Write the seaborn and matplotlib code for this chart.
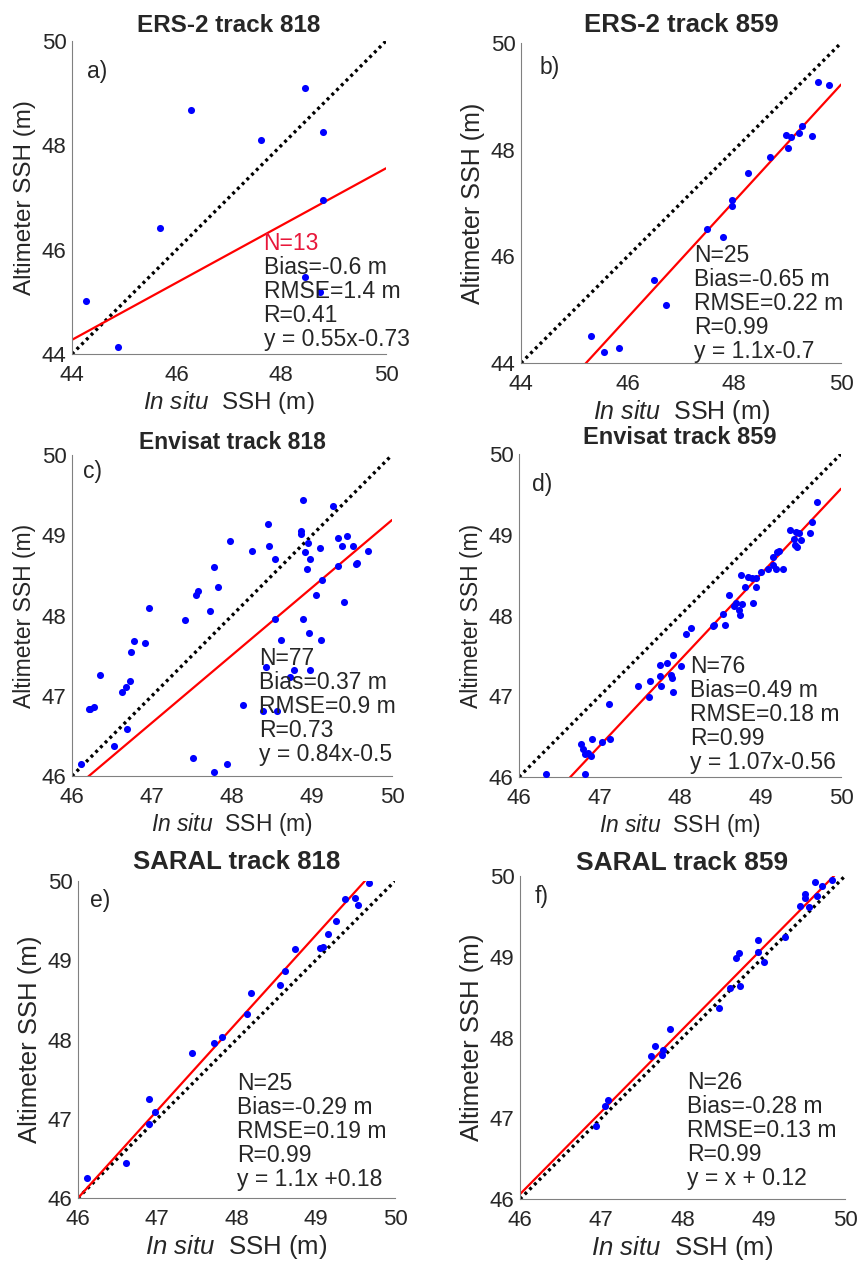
import numpy as np
import pandas as pd
import matplotlib
matplotlib.use("Agg")
import matplotlib.pyplot as plt
import seaborn as sns

# ----------------------------------------------------
# 1. Data
# ----------------------------------------------------
# ERS-2 track 818 (a)
ers818_insitu = [44.26, 44.87, 45.68, 46.27, 47.61, 48.46, 48.80, 48.79, 48.46, 48.74]
ers818_alt = [45.02, 44.13, 46.41, 48.67, 48.10, 49.09, 48.26, 46.95, 45.47, 45.18]

# ERS-2 track 859 (b)
ers859_insitu = [45.31, 45.55, 45.83, 46.49, 46.71, 47.49, 47.79, 47.95, 47.96, 48.26,
                 48.66, 48.96, 49.06, 49.01, 49.21, 49.26, 49.46, 49.56, 49.78]
ers859_alt = [44.50, 44.20, 44.28, 45.55, 45.08, 46.51, 46.36, 46.94, 47.06, 47.57,
              47.87, 48.27, 48.24, 48.03, 48.32, 48.44, 48.26, 49.26, 49.21]

# Envisat track 818 (c)
env818_insitu = [46.11, 46.21, 46.23, 46.28, 46.35, 46.52, 46.63, 46.68, 46.69, 46.73,
                 46.74, 46.77, 46.91, 46.96, 47.41, 47.51, 47.55, 47.58, 47.72, 47.78,
                 47.78, 47.83, 47.94, 47.97, 48.14, 48.25, 48.39, 48.43, 48.45, 48.46,
                 48.54, 48.54, 48.56, 48.61, 48.73, 48.78, 48.86, 48.86, 48.89, 48.89,
                 48.91, 48.94, 48.95, 48.96, 48.98, 48.97, 49.05, 49.10, 49.11, 49.12,
                 49.26, 49.32, 49.33, 49.38, 49.40, 49.44, 49.51, 49.55, 49.56, 49.70]
env818_alt = [46.15, 46.83, 46.83, 46.86, 47.26, 46.38, 47.05, 47.11, 46.59, 47.18,
              47.54, 47.68, 47.66, 48.09, 47.94, 46.23, 48.25, 48.31, 48.06, 48.60,
              46.05, 48.35, 46.15, 48.93, 46.89, 48.80, 46.81, 47.36, 49.14, 48.86,
              48.70, 47.96, 46.81, 47.69, 47.23, 47.32, 49.05, 49.02, 49.44, 47.96,
              48.79, 48.58, 48.90, 47.78, 48.71, 47.32, 48.25, 48.84, 47.69, 48.44,
              49.37, 48.97, 48.62, 48.87, 48.17, 48.99, 48.86, 48.64, 48.65, 48.80]

# Envisat track 859 (d)
env859_insitu = [46.34, 46.77, 46.79, 46.82, 46.82, 46.86, 46.90, 46.91, 47.03, 47.13,
                 47.12, 47.48, 47.61, 47.63, 47.75, 47.75, 47.76, 47.84, 47.89, 47.90,
                 47.91, 47.91, 48.01, 48.07, 48.14, 48.41, 48.42, 48.54, 48.56, 48.61,
                 48.67, 48.70, 48.73, 48.74, 48.77, 48.76, 48.81, 48.85, 48.90, 48.91,
                 48.94, 48.95, 49.01, 49.09, 49.15, 49.16, 49.19, 49.20, 49.23, 49.28,
                 49.37, 49.42, 49.43, 49.45, 49.44, 49.48, 49.50, 49.62, 49.64, 49.70]
env859_alt = [46.04, 46.41, 46.35, 46.29, 46.04, 46.30, 46.26, 46.47, 46.43, 46.47,
              46.90, 47.13, 46.99, 47.19, 47.39, 47.25, 47.13, 47.41, 47.26, 47.23,
              47.51, 47.05, 47.38, 47.77, 47.84, 47.87, 47.88, 48.02, 47.88, 48.25,
              48.12, 48.16, 48.07, 48.01, 48.14, 48.50, 48.35, 48.48, 48.46, 48.16,
              48.47, 48.35, 48.54, 48.58, 48.73, 48.63, 48.58, 48.79, 48.80, 48.58,
              49.06, 48.95, 48.87, 48.85, 49.04, 49.02, 48.94, 49.02, 49.16, 49.40]

# SARAL track 818 (e)
sar818_insitu = [46.11, 46.61, 46.89, 46.89, 46.97, 47.44, 47.72, 47.82, 48.13, 48.18,
                 48.55, 48.61, 48.74, 49.05, 49.09, 49.15, 49.26, 49.37, 49.49, 49.53, 49.67]
sar818_alt = [46.25, 46.44, 47.25, 46.94, 47.08, 47.83, 47.95, 48.03, 48.32, 48.59,
              48.69, 48.87, 49.14, 49.15, 49.17, 49.33, 49.50, 49.77, 49.79, 49.70, 49.97]

# SARAL track 859 (f)
sar859_insitu = [46.94, 47.04, 47.08, 47.61, 47.66, 47.75, 47.76, 47.85, 48.45, 48.58,
                 48.66, 48.70, 48.71, 48.93, 48.93, 49.00, 49.26, 49.45, 49.51, 49.51,
                 49.56, 49.63, 49.66, 49.72, 49.84]
sar859_alt = [46.91, 47.15, 47.23, 47.77, 47.90, 47.78, 47.84, 48.11, 48.36, 48.61,
              48.98, 49.05, 48.64, 49.21, 49.06, 48.94, 49.24, 49.63, 49.78, 49.73,
              49.61, 49.92, 49.75, 49.88, 49.95]

# regression lines as drawn (slope, intercept)
fit_slopes = [0.548, 1.092, 0.842, 1.062, 1.105, 1.02]
fit_intercepts = [20.16, -5.38, 7.09, -3.53, -4.83, -0.86]

titles = ["ERS-2 track 818", "ERS-2 track 859", "Envisat track 818",
          "Envisat track 859", "SARAL track 818", "SARAL track 859"]
panel_tags = ["a)", "b)", "c)", "d)", "e)", "f)"]
stats_text = [
    ["N=13", "Bias=-0.6 m", "RMSE=1.4 m", "R=0.41", "y = 0.55x-0.73"],
    ["N=25", "Bias=-0.65 m", "RMSE=0.22 m", "R=0.99", "y = 1.1x-0.7"],
    ["N=77", "Bias=0.37 m", "RMSE=0.9 m", "R=0.73", "y = 0.84x-0.5"],
    ["N=76", "Bias=0.49 m", "RMSE=0.18 m", "R=0.99", "y = 1.07x-0.56"],
    ["N=25", "Bias=-0.29 m", "RMSE=0.19 m", "R=0.99", "y = 1.1x +0.18"],
    ["N=26", "Bias=-0.28 m", "RMSE=0.13 m", "R=0.99", "y = x + 0.12"],
]

# ----------------------------------------------------
# 2. Layout (pixel positions measured on the 858x1265 reference)
# ----------------------------------------------------
W, H = 858, 1265
# left, top, right, bottom in pixels
AX_BOX = [(72, 41, 386, 354), (521, 43, 841, 363),
          (72, 455, 392, 776), (519, 454, 841, 777),
          (78, 881, 395, 1198), (520, 876, 845, 1199)]
AX_LIMS = [(44, 50), (44, 50), (46, 50), (46, 50), (46, 50), (46, 50)]
TITLE_PAD = [6.5, 8, 4.3, 7, 8.6, 4.3]
TITLE_SIZE = [17.5, 18.5, 16.5, 17, 18.5, 19]
LABEL_SIZE = [17.5, 18, 16.5, 16.5, 18.5, 18.5]
TAG_POS = [(44.29, 49.41), (44.34, 49.55), (46.14, 49.79),
           (46.16, 49.62), (46.15, 49.76), (46.18, 49.74)]
STATS_POS = [(47.66, 46.12), (47.25, 46.02), (48.34, 47.47),
             (48.12, 47.37), (48.01, 47.44), (48.06, 47.44)]

RED_TEXT = "#e8173a"


def plot_panel(ax, i, x, y):
    lo, hi = AX_LIMS[i]
    df = pd.DataFrame({"insitu": x, "alt": y})

    # 1:1 line
    ax.plot([lo, hi], [lo, hi], color="black", lw=2.4,
            linestyle=(0, (0.9, 1.1)), zorder=2)
    # regression line
    xx = np.array([lo, hi])
    ax.plot(xx, fit_slopes[i] * xx + fit_intercepts[i], color="red", lw=1.6, zorder=2)

    sns.scatterplot(data=df, x="insitu", y="alt", ax=ax, color="blue",
                    s=26, linewidth=0, zorder=3)

    ax.set_xlim(lo, hi)
    ax.set_ylim(lo, hi)
    if lo == 44:
        ax.set_xticks(np.arange(44, 51, 2))
        ax.set_yticks(np.arange(44, 51, 2))
        ax.set_xticks(np.arange(45, 50, 2), minor=True)
        ax.set_yticks(np.arange(45, 50, 2), minor=True)
    else:
        ax.set_xticks(np.arange(46, 51, 1))
        ax.set_yticks(np.arange(46, 51, 1))

    ax.tick_params(which="both", direction="in", length=4, width=0.8,
                   color="#808080", labelsize=16, labelcolor="#262626")
    ax.tick_params(axis="x", pad=8)
    ax.tick_params(axis="y", pad=4)
    for side in ["top", "right"]:
        ax.spines[side].set_visible(False)
    for side in ["left", "bottom"]:
        ax.spines[side].set_color("#808080")
        ax.spines[side].set_linewidth(0.8)

    ax.set_title(titles[i], fontsize=TITLE_SIZE[i], fontweight="bold", pad=TITLE_PAD[i])
    ax.set_xlabel(r"$\mathit{In\ situ}$  SSH (m)", fontsize=LABEL_SIZE[i],
                  color="#262626", labelpad=2)
    ax.set_ylabel("Altimeter SSH (m)", fontsize=LABEL_SIZE[i],
                  color="#262626", labelpad=4)

    ax.text(TAG_POS[i][0], TAG_POS[i][1], panel_tags[i], fontsize=16.5,
            ha="left", va="center", color="#262626")

    sx, sy = STATS_POS[i]
    for k, line in enumerate(stats_text[i]):
        c = RED_TEXT if (i == 0 and k == 0) else "#262626"
        ax.annotate(line, xy=(sx, sy), xytext=(0, -17.3 * k),
                    textcoords="offset points", fontsize=16.5,
                    ha="left", va="center", color=c, zorder=4)


def main():
    sns.set_style("white")
    plt.rcParams["font.family"] = ["Liberation Sans", "DejaVu Sans"]
    plt.rcParams["mathtext.fontset"] = "custom"
    plt.rcParams["mathtext.rm"] = "Liberation Sans"
    plt.rcParams["mathtext.it"] = "Liberation Sans:italic"

    fig = plt.figure(figsize=(W / 100, H / 100), dpi=100)
    fig.patch.set_facecolor("white")

    series = [(ers818_insitu, ers818_alt), (ers859_insitu, ers859_alt),
              (env818_insitu, env818_alt), (env859_insitu, env859_alt),
              (sar818_insitu, sar818_alt), (sar859_insitu, sar859_alt)]

    for i, (x, y) in enumerate(series):
        l, t, r, b = AX_BOX[i]
        ax = fig.add_axes([l / W, 1 - b / H, (r - l) / W, (b - t) / H])
        plot_panel(ax, i, x, y)

    fig.savefig("out.png", dpi=100)
    plt.close(fig)


if __name__ == "__main__":
    main()
